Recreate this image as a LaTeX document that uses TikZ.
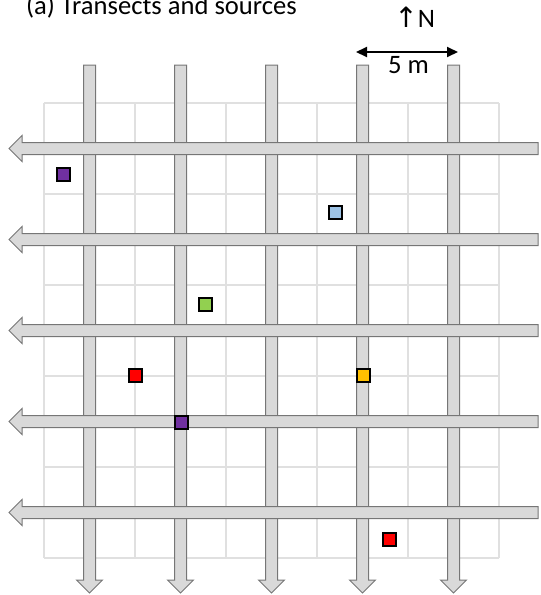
\documentclass[tikz,border=0pt]{standalone}
\usepackage{fontspec}
\setmainfont{Carlito}
\newfontfamily\symfont{DejaVu Sans}
\usetikzlibrary{arrows.meta}
\definecolor{gridgray}{HTML}{E0E0E0}
\definecolor{arrfill}{HTML}{D9D9D9}
\definecolor{arredge}{HTML}{767676}
\definecolor{srcpurple}{HTML}{7030A0}
\definecolor{srcblue}{HTML}{9DC3E6}
\definecolor{srcgreen}{HTML}{92D050}
\definecolor{srcred}{HTML}{FF0000}
\definecolor{srcorange}{HTML}{FFC000}
\tikzset{
  gridline/.style={draw=gridgray, line width=2pt},
  transect/.style={fill=arrfill, draw=arredge, line width=1pt, line join=miter},
  srcbox/.style={draw=black, line width=2pt, minimum size=13pt, inner sep=0pt, outer sep=0pt},
  lbl/.style={inner sep=0pt, outer sep=0pt, font=\fontsize{26.6}{32}\selectfont},
  scalebar/.style={line width=2pt, {Triangle[length=11pt,width=10pt]}-{Triangle[length=11pt,width=10pt]}}
}
\begin{document}
\begin{tikzpicture}[x=1pt,y=-1pt]
\useasboundingbox (0,0) rectangle (541,595);
% grid
\foreach \i in {0,...,10}{
  \draw[gridline] (44+45.5*\i,103) -- (44+45.5*\i,558);
  \draw[gridline] (44,103+45.5*\i) -- (499,103+45.5*\i);
}
% vertical transects
\foreach \x in {89.5,180.5,271.5,362.5,453.5}{
  \draw[transect] (\x-6,65) -- (\x+6,65) -- (\x+6,580) -- (\x+13,580) -- (\x,593)
     -- (\x-13,580) -- (\x-6,580) -- cycle;
}
% horizontal transects
\foreach \y in {148.5,239.5,330.5,421.5,512.5}{
  \draw[transect] (538,\y-6) -- (538,\y+6) -- (22,\y+6) -- (22,\y+13) -- (9,\y)
     -- (22,\y-13) -- (22,\y-6) -- cycle;
}
% sources
\node[srcbox, fill=srcpurple] (s1) at (63.5,174.5) {};
\node[srcbox, fill=srcblue]   (s2) at (335.5,212) {};
\node[srcbox, fill=srcgreen]  (s3) at (205.5,304) {};
\node[srcbox, fill=srcred]    (s4) at (135.5,375.5) {};
\node[srcbox, fill=srcorange] (s5) at (363.5,375.5) {};
\node[srcbox, fill=srcpurple] (s6) at (181,422) {};
\node[srcbox, fill=srcred]    (s7) at (389.5,539.5) {};
% title
\node[lbl, anchor=base west] (title) at (26,14) {(a) Transects and sources};
% north
\node[lbl, anchor=base east] (north) at (435,27) {{\symfont\fontsize{28}{34}\selectfont ↑}N};
% scale bar
\coordinate (sbL) at (356,52);
\coordinate (sbR) at (458,52);
\draw[scalebar] (sbL) -- (sbR);
\node[lbl, anchor=base] (scale) at (408.5,73.5) {5 m};
\end{tikzpicture}
\end{document}
